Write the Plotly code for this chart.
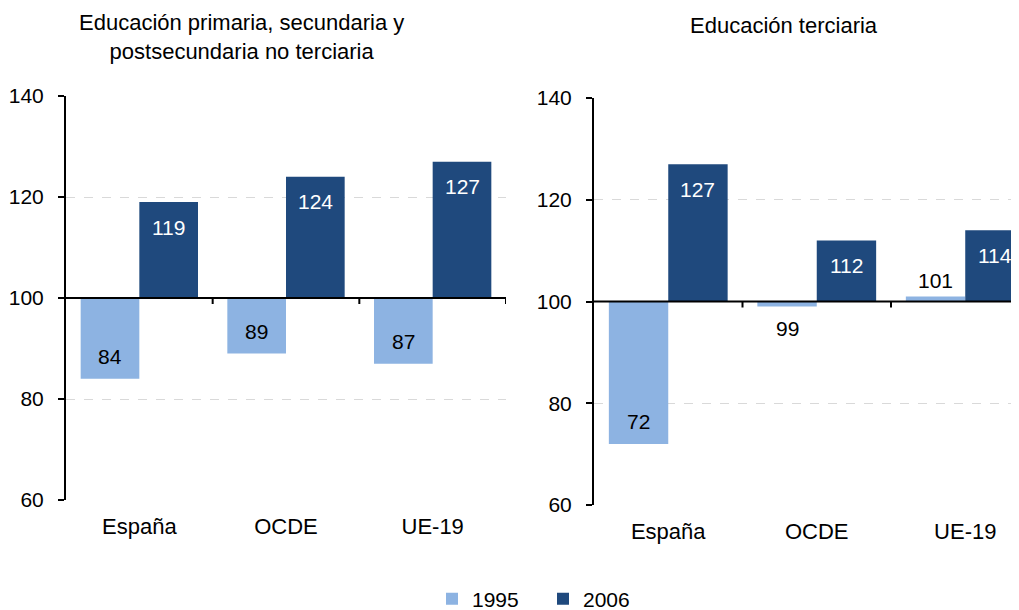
import plotly.graph_objects as go

categories = ["España", "OCDE", "UE-19"]
years = ["1995", "2006"]
# Left panel: Educación primaria, secundaria y postsecundaria no terciaria
left_1995 = [84, 89, 87]
left_2006 = [119, 124, 127]
# Right panel: Educación terciaria
right_1995 = [72, 99, 101]
right_2006 = [127, 112, 114]

title_left = "Educación primaria, secundaria y<br>postsecundaria no terciaria"
title_right = "Educación terciaria"
y_ticks = [60, 80, 100, 120, 140]
BASE = 100

c1995 = "#8DB3E2"
c2006 = "#1F497D"
FONT = "Liberation Sans, Arial, sans-serif"

# page body has an 8px default margin: figure drawn at (8, 8)
OFF = 8
W, H = 1019 - OFF, 610 - OFF


def px(x):
    return (x - OFF) / W


def py(y):
    return 1 - (y - OFF) / H


fig = go.Figure()
xs = list(range(len(categories)))

panels = [
    ("x", "y", left_1995, left_2006, True),
    ("x2", "y2", right_1995, right_2006, False),
]
annotations = []
shapes = []
for xa, ya, v95, v06, showleg in panels:
    for name, vals, col, off in [("1995", v95, c1995, -0.4), ("2006", v06, c2006, 0.0)]:
        fig.add_trace(go.Bar(
            x=xs, y=[v - BASE for v in vals], base=BASE, width=0.4, offset=off,
            marker=dict(color=col, line=dict(width=0)), name=name,
            showlegend=showleg, xaxis=xa, yaxis=ya, hoverinfo="skip",
        ))
        for i, v in enumerate(vals):
            d = v - BASE
            inside = abs(d) >= 5
            if inside:
                ys = -25 if d > 0 else 22
                color = "white" if name == "2006" else "black"
            else:
                ys = 16 if d > 0 else -22
                color = "black"
            annotations.append(dict(
                x=i + off + 0.2, y=v, xref=xa, yref=ya, yshift=ys,
                text=f"{v:.0f}", showarrow=False,
                font=dict(size=21, color=color, family=FONT),
                xanchor="center", yanchor="middle",
            ))
    # baseline at 100
    shapes.append(dict(type="line", xref=f"{xa} domain", yref=ya, x0=0, x1=1,
                       y0=BASE, y1=BASE, line=dict(color="black", width=2), layer="above"))
    nb = 3 if xa == "x" else 2
    for k in range(nb):
        shapes.append(dict(type="line", xref=xa, yref=ya, x0=k + 0.5, x1=k + 0.5,
                           ysizemode="pixel", yanchor=BASE, y0=0, y1=-6,
                           line=dict(color="black", width=2), layer="above"))

axis_y = dict(range=[60, 140], tickvals=y_ticks, showline=True, linecolor="black",
              linewidth=2, ticks="outside", ticklen=6, tickwidth=2, tickcolor="black",
              showgrid=True, gridcolor="#D9D9D9", griddash="dash", gridwidth=1,
              zeroline=False, tickfont=dict(size=21, color="black", family=FONT),
              ticklabelstandoff=10, fixedrange=True)
axis_x = dict(tickvals=xs, ticktext=categories, showline=False, showgrid=False,
              zeroline=False, ticks="", tickfont=dict(size=22, color="black", family=FONT),
              ticklabelstandoff=11, fixedrange=True)

fig.update_layout(
    width=W, height=H, margin=dict(l=0, r=0, t=0, b=0, autoexpand=False),
    paper_bgcolor="white", plot_bgcolor="white",
    barmode="overlay", bargap=0.2,
    font=dict(family=FONT, color="black"),
    xaxis=dict(axis_x, domain=[px(66), px(506)], range=[-0.5, 2.5], anchor="y"),
    yaxis=dict(axis_y, domain=[py(500), py(96)], anchor="x"),
    xaxis2=dict(axis_x, domain=[px(594), 1.0], range=[-0.5, 2.362], anchor="y2"),
    yaxis2=dict(axis_y, domain=[py(505), py(98)], anchor="x2"),
    legend=dict(orientation="h", x=px(432), xanchor="left", y=py(599),
                yanchor="middle", font=dict(size=21, family=FONT, color="black"),
                entrywidth=66, entrywidthmode="pixels", bgcolor="rgba(0,0,0,0)",
                itemclick=False, itemdoubleclick=False),
    annotations=annotations + [
        dict(text=title_left, x=px(241), y=py(8), xref="paper", yref="paper",
             xanchor="center", yanchor="top", showarrow=False,
             font=dict(size=22, family=FONT, color="black")),
        dict(text=title_right, x=px(784), y=py(26), xref="paper", yref="paper",
             xanchor="center", yanchor="middle", showarrow=False,
             font=dict(size=22, family=FONT, color="black")),
    ],
    shapes=shapes,
)

fig.write_html("out.html")
